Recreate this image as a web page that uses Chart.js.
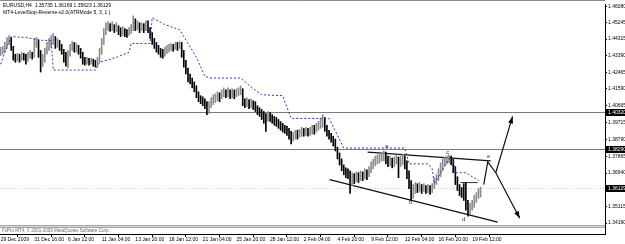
<!DOCTYPE html>
<html>
<head>
<meta charset="utf-8">
<script src="https://cdn.jsdelivr.net/npm/chart.js@4.4.1/dist/chart.umd.min.js"></script>
<style>
  html, body { margin: 0; padding: 0; background: #fff; }
  #wrap { width: 625px; height: 244px; }
</style>
</head>
<body>
<div id="wrap"><canvas id="c" width="625" height="244"></canvas></div>
<script>
// EURUSD H4, 29 Dec 2009 - 19 Feb 2010, one entry per bar
const opens = [
  1.4348,1.4359,1.4369,1.4386,1.4424,1.4435,1.4386,1.4331,1.4321,1.4337,1.4326,1.4342,1.4331,1.4315,1.4337,1.4348,
  1.4337,1.4402,1.4413,1.4359,1.4293,1.4315,1.4359,1.4380,1.4402,1.4424,1.4435,1.4402,1.4413,1.4391,1.4369,1.4331,
  1.4315,1.4348,1.4386,1.4402,1.4386,1.4391,1.4369,1.4348,1.4315,1.4304,1.4315,1.4304,1.4310,1.4299,1.4293,1.4315,
  1.4359,1.4413,1.4467,1.4494,1.4505,1.4494,1.4505,1.4489,1.4500,1.4478,1.4467,1.4478,1.4467,1.4462,1.4473,1.4483,
  1.4521,1.4500,1.4511,1.4489,1.4500,1.4483,1.4511,1.4489,1.4456,1.4424,1.4402,1.4386,1.4369,1.4359,1.4348,1.4364,
  1.4375,1.4380,1.4391,1.4386,1.4397,1.4391,1.4402,1.4359,1.4304,1.4261,1.4223,1.4206,1.4185,1.4163,1.4130,1.4109,
  1.4098,1.4087,1.4071,1.4044,1.4065,1.4087,1.4098,1.4109,1.4120,1.4109,1.4130,1.4141,1.4130,1.4141,1.4125,1.4136,
  1.4125,1.4136,1.4141,1.4152,1.4087,1.4076,1.4087,1.4071,1.4082,1.4065,1.4054,1.4038,1.4027,1.4016,1.4000,1.3989,
  1.4011,1.4000,1.3989,1.3978,1.3973,1.3962,1.3951,1.3940,1.3935,1.3924,1.3902,1.3881,1.3892,1.3908,1.3902,1.3913,
  1.3924,1.3919,1.3924,1.3913,1.3924,1.3935,1.3930,1.3946,1.3957,1.3968,1.3989,1.3946,1.3919,1.3902,1.3886,1.3870,
  1.3837,1.3794,1.3761,1.3729,1.3707,1.3696,1.3685,1.3663,1.3674,1.3663,1.3680,1.3669,1.3685,1.3680,1.3696,1.3685,
  1.3707,1.3729,1.3750,1.3761,1.3772,1.3777,1.3783,1.3788,1.3767,1.3750,1.3761,1.3745,1.3761,1.3772,1.3750,1.3761,
  1.3772,1.3750,1.3696,1.3642,1.3577,1.3598,1.3620,1.3609,1.3620,1.3604,1.3615,1.3604,1.3609,1.3598,1.3615,1.3642,
  1.3663,1.3685,1.3718,1.3745,1.3761,1.3767,1.3777,1.3761,1.3718,1.3663,1.3620,1.3598,1.3587,1.3577,1.3517,1.3479,
  1.3501,1.3517,1.3544,1.3566,1.35735
];
const highs = [
  1.4386,1.4391,1.4413,1.4440,1.4451,1.4440,1.4391,1.4348,1.4353,1.4348,1.4359,1.4353,1.4348,1.4359,1.4369,1.4359,
  1.4435,1.4440,1.4424,1.4369,1.4348,1.4380,1.4413,1.4435,1.4451,1.4462,1.4445,1.4435,1.4424,1.4402,1.4375,1.4359,
  1.4369,1.4402,1.4418,1.4413,1.4407,1.4397,1.4380,1.4359,1.4331,1.4331,1.4326,1.4326,1.4321,1.4315,1.4331,1.4380,
  1.4435,1.4489,1.4521,1.4527,1.4516,1.4527,1.4511,1.4521,1.4505,1.4494,1.4500,1.4489,1.4483,1.4494,1.4511,1.4559,
  1.4543,1.4532,1.4521,1.4521,1.4516,1.4532,1.4532,1.4494,1.4467,1.4435,1.4413,1.4397,1.4380,1.4375,1.4386,1.4397,
  1.4402,1.4407,1.4402,1.4413,1.4413,1.4418,1.4413,1.4369,1.4315,1.4272,1.4239,1.4217,1.4196,1.4174,1.4141,1.4120,
  1.4114,1.4103,1.4087,1.4087,1.4109,1.4125,1.4130,1.4141,1.4136,1.4152,1.4163,1.4152,1.4163,1.4152,1.4158,1.4152,
  1.4158,1.4163,1.4174,1.4158,1.4103,1.4109,1.4098,1.4103,1.4092,1.4087,1.4065,1.4054,1.4044,1.4033,1.4022,1.4033,
  1.4027,1.4016,1.4006,1.4000,1.3989,1.3978,1.3968,1.3957,1.3951,1.3940,1.3924,1.3919,1.3930,1.3930,1.3935,1.3946,
  1.3940,1.3946,1.3940,1.3946,1.3957,1.3957,1.3968,1.3978,1.3995,1.4016,1.4000,1.3957,1.3930,1.3913,1.3897,1.3881,
  1.3837,1.3805,1.3772,1.3739,1.3723,1.3718,1.3707,1.3696,1.3691,1.3701,1.3696,1.3707,1.3701,1.3718,1.3712,1.3729,
  1.3756,1.3772,1.3788,1.3794,1.3799,1.3805,1.3816,1.3810,1.3788,1.3788,1.3777,1.3783,1.3794,1.3783,1.3788,1.3799,
  1.3788,1.3761,1.3707,1.3653,1.3631,1.3642,1.3636,1.3642,1.3631,1.3636,1.3625,1.3631,1.3625,1.3636,1.3669,1.3685,
  1.3718,1.3750,1.3772,1.3783,1.3788,1.3794,1.3788,1.3772,1.3729,1.3674,1.3631,1.3615,1.3636,1.3642,1.3544,1.3528,
  1.3544,1.3571,1.3587,1.3609,1.36169
];
const lows = [
  1.4342,1.4348,1.4359,1.4380,1.4402,1.4369,1.4315,1.4304,1.4310,1.4304,1.4315,1.4315,1.4293,1.4310,1.4326,1.4321,
  1.4331,1.4386,1.4331,1.4250,1.4282,1.4304,1.4348,1.4369,1.4386,1.4402,1.4380,1.4386,1.4369,1.4348,1.4304,1.4282,
  1.4272,1.4337,1.4369,1.4359,1.4359,1.4348,1.4326,1.4293,1.4288,1.4293,1.4288,1.4293,1.4282,1.4277,1.4282,1.4304,
  1.4348,1.4402,1.4456,1.4478,1.4473,1.4478,1.4467,1.4473,1.4456,1.4445,1.4451,1.4445,1.4440,1.4451,1.4462,1.4478,
  1.4478,1.4483,1.4467,1.4478,1.4467,1.4478,1.4467,1.4435,1.4402,1.4380,1.4359,1.4348,1.4331,1.4326,1.4337,1.4353,
  1.4359,1.4369,1.4364,1.4375,1.4369,1.4380,1.4331,1.4277,1.4239,1.4196,1.4185,1.4163,1.4141,1.4109,1.4087,1.4076,
  1.4065,1.4049,1.4016,1.4022,1.4054,1.4071,1.4082,1.4092,1.4087,1.4103,1.4114,1.4109,1.4114,1.4103,1.4109,1.4103,
  1.4114,1.4120,1.4125,1.4065,1.4054,1.4060,1.4049,1.4054,1.4044,1.4033,1.4016,1.4006,1.3989,1.3968,1.3924,1.3978,
  1.3978,1.3968,1.3957,1.3951,1.3940,1.3930,1.3919,1.3913,1.3902,1.3881,1.3854,1.3870,1.3881,1.3881,1.3892,1.3897,
  1.3897,1.3902,1.3897,1.3902,1.3908,1.3908,1.3919,1.3930,1.3940,1.3946,1.3924,1.3897,1.3881,1.3864,1.3843,1.3816,
  1.3772,1.3739,1.3707,1.3685,1.3669,1.3663,1.3582,1.3625,1.3636,1.3647,1.3642,1.3653,1.3653,1.3663,1.3658,1.3674,
  1.3696,1.3718,1.3734,1.3745,1.3750,1.3761,1.3761,1.3745,1.3729,1.3734,1.3723,1.3729,1.3745,1.3669,1.3729,1.3739,
  1.3718,1.3663,1.3609,1.3544,1.3555,1.3582,1.3587,1.3593,1.3582,1.3593,1.3582,1.3587,1.3577,1.3587,1.3609,1.3631,
  1.3653,1.3674,1.3707,1.3734,1.3745,1.3750,1.3739,1.3696,1.3631,1.3598,1.3571,1.3560,1.3544,1.3490,1.3457,1.3468,
  1.3490,1.3506,1.3533,1.3555,1.35623
];
const closes = [
  1.4359,1.4369,1.4386,1.4424,1.4435,1.4386,1.4331,1.4321,1.4337,1.4326,1.4342,1.4331,1.4315,1.4337,1.4348,1.4337,
  1.4402,1.4413,1.4359,1.4293,1.4315,1.4359,1.4380,1.4402,1.4424,1.4435,1.4402,1.4413,1.4391,1.4369,1.4331,1.4315,
  1.4348,1.4386,1.4402,1.4386,1.4391,1.4369,1.4348,1.4315,1.4304,1.4315,1.4304,1.4310,1.4299,1.4293,1.4315,1.4359,
  1.4413,1.4467,1.4494,1.4505,1.4494,1.4505,1.4489,1.4500,1.4478,1.4467,1.4478,1.4467,1.4462,1.4473,1.4483,1.4521,
  1.4500,1.4511,1.4489,1.4500,1.4483,1.4511,1.4489,1.4456,1.4424,1.4402,1.4386,1.4369,1.4359,1.4348,1.4364,1.4375,
  1.4380,1.4391,1.4386,1.4397,1.4391,1.4402,1.4359,1.4304,1.4261,1.4223,1.4206,1.4185,1.4163,1.4130,1.4109,1.4098,
  1.4087,1.4071,1.4044,1.4065,1.4087,1.4098,1.4109,1.4120,1.4109,1.4130,1.4141,1.4130,1.4141,1.4125,1.4136,1.4125,
  1.4136,1.4141,1.4152,1.4087,1.4076,1.4087,1.4071,1.4082,1.4065,1.4054,1.4038,1.4027,1.4016,1.4000,1.3989,1.4011,
  1.4000,1.3989,1.3978,1.3973,1.3962,1.3951,1.3940,1.3935,1.3924,1.3902,1.3881,1.3892,1.3908,1.3902,1.3913,1.3924,
  1.3919,1.3924,1.3913,1.3924,1.3935,1.3930,1.3946,1.3957,1.3968,1.3989,1.3946,1.3919,1.3902,1.3886,1.3870,1.3837,
  1.3794,1.3761,1.3729,1.3707,1.3696,1.3685,1.3663,1.3674,1.3663,1.3680,1.3669,1.3685,1.3680,1.3696,1.3685,1.3707,
  1.3729,1.3750,1.3761,1.3772,1.3777,1.3783,1.3788,1.3767,1.3750,1.3761,1.3745,1.3761,1.3772,1.3750,1.3761,1.3772,
  1.3750,1.3696,1.3642,1.3577,1.3598,1.3620,1.3609,1.3620,1.3604,1.3615,1.3604,1.3609,1.3598,1.3615,1.3642,1.3663,
  1.3685,1.3718,1.3745,1.3761,1.3767,1.3777,1.3761,1.3718,1.3663,1.3620,1.3598,1.3587,1.3577,1.3517,1.3479,1.3501,
  1.3517,1.3544,1.3566,1.3587,1.36129
];

// time axis
const dateTicks = [0, 16, 32, 48, 64, 80, 96, 112, 128, 144, 160, 176, 192, 208, 224];
const dateLabels = ['29 Dec 2009', '31 Dec 16:00', '6 Jan 12:00', '11 Jan 04:00', '13 Jan 20:00',
  '18 Jan 12:00', '21 Jan 04:00', '25 Jan 20:00', '28 Jan 12:00', '2 Feb 04:00', '4 Feb 20:00',
  '9 Feb 12:00', '12 Feb 04:00', '16 Feb 20:00', '19 Feb 12:00'];
// price axis
const priceTicks = [1.46080, 1.45245, 1.44315, 1.43390, 1.42465, 1.41590, 1.40665,
  1.39715, 1.38790, 1.37865, 1.36940, 1.35115, 1.34190];

// LevelStop-Reverse indicator (vertices)
const lsrBars = [0,2,5,12,20,24,25,45,47,55,61,62,71,72,78,85,87,93,97,99,114,119,124,134,138,156,163,192,194,203,205,206,213,215,216,221,227];
const lsrPrices = [1.4293,1.4359,1.4445,1.4440,1.4424,1.4424,1.4261,1.4261,1.4304,1.4331,1.4359,1.4407,1.4407,1.4549,1.4511,1.4483,1.4445,1.4331,1.4228,1.4217,1.4217,1.4168,1.4125,1.4120,1.3995,1.3995,1.3832,1.3832,1.3745,1.3745,1.3718,1.3636,1.3772,1.3777,1.3696,1.3696,1.3653];

// horizontal levels and bid
const levelPrices = [1.4032, 1.3829];
const bidPrice = 1.36129;

// drawn objects: triangle, wave path, arrows
const upperBars = [174.3, 232.8], upperPrices = [1.3810, 1.3761];
const lowerBars = [156.3, 236.1], lowerPrices = [1.3658, 1.3425];
const flagBars = [218.5, 226.6], flagPrices = [1.3642, 1.3642];
const pathBars = [229.5, 231.4, 235.2], pathPrices = [1.3631, 1.3756, 1.3696];
const upBars = [235.2, 243.2], upPrices = [1.3696, 1.4006];
const downBars = [235.2, 246.6], downPrices = [1.3696, 1.3446];
const waveLabels = ['a', 'b', 'c', 'd', 'e'];
const waveBars = [183.4, 194.8, 212.4, 220.0, 231.8];
const wavePrices = [1.3843, 1.3533, 1.3810, 1.3441, 1.3788];

const pts = (bs, ps) => bs.map((b, i) => ({ x: b, y: ps[i] }));
const isUp = opens.map((o, i) => closes[i] >= o);
const wickColor = isUp.map(u => u ? '#8c8c8c' : '#000000');

function lineSet(data, color, width, dash) {
  return {
    type: 'line', data, borderColor: color, borderWidth: width, borderDash: dash || [],
    pointRadius: 0, fill: false, tension: 0
  };
}

const FONT = 'Liberation Sans';

const overlay = {
  id: 'overlay',
  beforeDatasetsDraw(chart) {
    const { ctx, chartArea: a, scales: { y } } = chart;
    ctx.save();
    ctx.strokeStyle = '#7a7a7a';
    ctx.lineWidth = 1;
    levelPrices.forEach(p => {
      const yy = Math.round(y.getPixelForValue(p)) + 0.5;
      ctx.beginPath(); ctx.moveTo(a.left, yy); ctx.lineTo(a.right, yy); ctx.stroke();
    });
    ctx.strokeStyle = '#c4c4c4';
    ctx.setLineDash([1, 2]);
    const by = Math.round(y.getPixelForValue(bidPrice)) + 0.5;
    ctx.beginPath(); ctx.moveTo(a.left, by); ctx.lineTo(a.right, by); ctx.stroke();
    ctx.restore();
  },
  afterDraw(chart) {
    const { ctx, chartArea: a, scales: { x, y } } = chart;
    ctx.save();

    // arrow heads
    const head = (bs, ps) => {
      const x1 = x.getPixelForValue(bs[0]), y1 = y.getPixelForValue(ps[0]);
      const x2 = x.getPixelForValue(bs[1]), y2 = y.getPixelForValue(ps[1]);
      const ang = Math.atan2(y2 - y1, x2 - x1);
      ctx.beginPath();
      ctx.moveTo(x2, y2);
      ctx.lineTo(x2 - 7 * Math.cos(ang) + 2.5 * Math.sin(ang), y2 - 7 * Math.sin(ang) - 2.5 * Math.cos(ang));
      ctx.lineTo(x2 - 7 * Math.cos(ang) - 2.5 * Math.sin(ang), y2 - 7 * Math.sin(ang) + 2.5 * Math.cos(ang));
      ctx.closePath();
      ctx.fillStyle = '#000';
      ctx.fill();
    };
    head(upBars, upPrices);
    head(downBars, downPrices);

    // wave letters
    ctx.font = '6px ' + FONT;
    ctx.fillStyle = '#333';
    ctx.textAlign = 'center';
    ctx.textBaseline = 'middle';
    waveLabels.forEach((t, i) => {
      ctx.fillText(t, x.getPixelForValue(waveBars[i]), y.getPixelForValue(wavePrices[i]));
    });

    // header texts
    ctx.textAlign = 'left';
    ctx.textBaseline = 'alphabetic';
    ctx.fillStyle = '#000';
    ctx.font = '5px ' + FONT;
    ctx.fillText('EURUSD,H4  1.35735 1.36169 1.35623 1.36129', 3, 7);
    ctx.fillText('MT4-LevelStop-Reverse-v2.0(ATRMode 5, 3, 1 )', 3, 13.5);

    // frame top
    ctx.strokeStyle = '#8a8a8a';
    ctx.beginPath(); ctx.moveTo(0, 0.5); ctx.lineTo(a.right, 0.5); ctx.stroke();

    // separator and info window at the bottom
    ctx.fillStyle = '#fff';
    ctx.fillRect(a.left, 226, a.right - a.left, a.bottom - 226);
    ctx.fillStyle = '#a8a8a8';
    ctx.fillRect(a.left, 225, a.right - a.left, 1);
    ctx.fillRect(a.left, 227, a.right - a.left, 1);
    ctx.fillStyle = '#d4d4d4';
    ctx.fillRect(a.left, 226, a.right - a.left, 1);
    ctx.fillStyle = '#666';
    ctx.font = '4.5px ' + FONT;
    ctx.fillText('FxPro MT4, \u00a9 2001-2009 MetaQuotes Software Corp.', 2, 232);
    ctx.strokeStyle = '#000';
    ctx.beginPath(); ctx.moveTo(a.left, a.bottom + 0.5); ctx.lineTo(a.right, a.bottom + 0.5); ctx.stroke();

    // price tags on the axis
    const tag = (p, txt) => {
      const yy = Math.round(y.getPixelForValue(p));
      ctx.fillStyle = '#000';
      ctx.fillRect(a.right + 1, yy - 3, 625 - a.right, 7);
      ctx.fillStyle = '#fff';
      ctx.font = '5px ' + FONT;
      ctx.textBaseline = 'middle';
      ctx.fillText(txt, a.right + 3, yy + 0.5);
    };
    tag(levelPrices[0], '1.40320');
    tag(levelPrices[1], '1.38290');
    tag(bidPrice, '1.36129');
    ctx.restore();
  }
};

new Chart(document.getElementById('c'), {
  type: 'bar',
  data: {
    datasets: [
      lineSet(pts(lsrBars, lsrPrices), '#3434c0', 1, [2, 2]),
      {
        type: 'bar',
        data: highs.map((h, i) => ({ x: i, y: [lows[i], h] })),
        backgroundColor: wickColor, barThickness: 1, grouped: false, borderWidth: 0
      },
      lineSet(pts(upperBars, upperPrices), '#111', 1.3),
      lineSet(pts(lowerBars, lowerPrices), '#111', 1.3),
      lineSet(pts(flagBars, flagPrices), '#333', 1),
      lineSet(pts(pathBars, pathPrices), '#111', 1.2),
      lineSet(pts(upBars, upPrices), '#111', 1.2),
      lineSet(pts(downBars, downPrices), '#111', 1.2)
    ]
  },
  options: {
    responsive: false,
    animation: false,
    devicePixelRatio: 1,
    layout: { padding: { top: 1, left: 0, right: 0, bottom: 0 } },
    plugins: { legend: { display: false }, tooltip: { enabled: false } },
    scales: {
      x: {
        type: 'linear', min: -0.3, max: 287.1, offset: false,
        afterBuildTicks: s => { s.ticks = dateTicks.map(v => ({ value: v })); },
        afterFit: s => { s.height = 10; },
        ticks: {
          callback: (v, i) => dateLabels[i], align: 'start', maxRotation: 0, autoSkip: false,
          font: { size: 5, family: FONT }, color: '#000', padding: 0
        },
        grid: { drawOnChartArea: false, tickLength: 3, color: '#000' },
        border: { color: '#000' }
      },
      y: {
        type: 'linear', position: 'right', min: 1.33591, max: 1.46243,
        afterBuildTicks: s => { s.ticks = priceTicks.map(v => ({ value: v })); },
        afterFit: s => { s.width = 20; },
        ticks: {
          callback: v => v.toFixed(5), font: { size: 5, family: FONT }, color: '#000', padding: 1
        },
        grid: { drawOnChartArea: false, tickLength: 2, color: '#000' },
        border: { color: '#000' }
      }
    }
  },
  plugins: [overlay]
});
</script>
</body>
</html>
